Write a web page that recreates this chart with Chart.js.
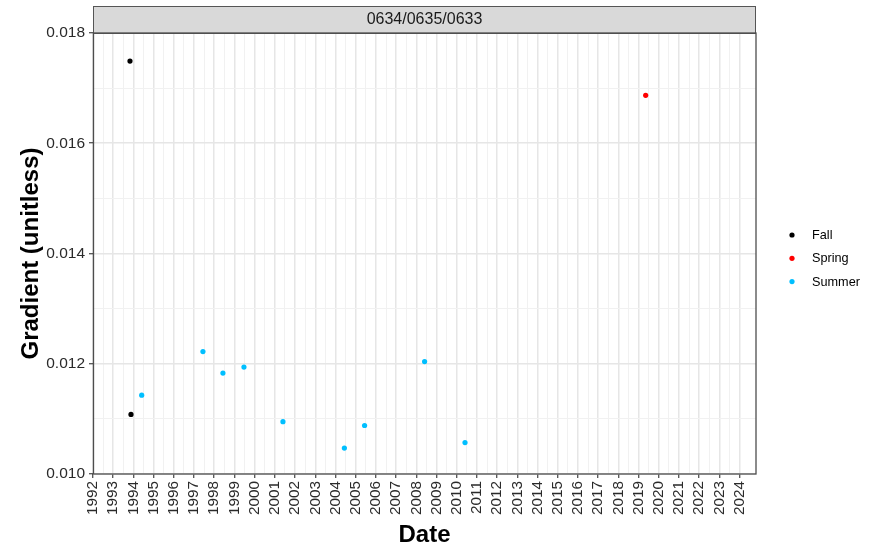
<!DOCTYPE html>
<html>
<head>
<meta charset="utf-8">
<script src="https://cdn.jsdelivr.net/npm/chart.js@4/dist/chart.umd.min.js"></script>
<style>
  html, body { margin: 0; padding: 0; background: #ffffff; }
  #wrap { width: 873px; height: 550px; }
</style>
</head>
<body>
<div id="wrap"><canvas id="chart" width="873" height="550"></canvas></div>
<script>
// Season groups and their colours
const seasons = ['Fall', 'Spring', 'Summer'];
const seasonColors = ['#000000', '#FF0000', '#00BFFF'];

// Observation dates (decimal years) and gradients per season
const fallDates = [1993.83, 1993.88];
const fallValues = [0.01749, 0.01108];

const springDates = [2019.35];
const springValues = [0.01687];

const summerDates = [1994.41, 1997.44, 1998.43, 1999.47, 2001.40, 2004.44, 2005.44, 2008.41, 2010.41];
const summerValues = [0.01143, 0.01222, 0.01183, 0.01194, 0.01095, 0.01047, 0.01088, 0.01204, 0.01057];

// Axis settings
const yearMin = 1992;
const yearMax = 2024.81;
const gradientMin = 0.010;
const gradientMax = 0.018;
const panelTitle = '0634/0635/0633';

const FONT = "'Liberation Sans', Arial, Helvetica, sans-serif";

function toPoints(xs, ys) {
  return xs.map((x, i) => ({ x: x, y: ys[i] }));
}

const seriesDates = [fallDates, springDates, summerDates];
const seriesValues = [fallValues, springValues, summerValues];

const datasets = seasons.map((name, i) => ({
  label: name,
  data: toPoints(seriesDates[i], seriesValues[i]),
  backgroundColor: seasonColors[i],
  borderWidth: 0,
  pointRadius: 2.6,
  pointHoverRadius: 2.6
}));

const isWhole = v => Math.abs(v - Math.round(v)) < 1e-6;
const isHalf = v => !isWhole(v) && Math.abs(v * 2 - Math.round(v * 2)) < 1e-6;
const isMajorY = v => Math.round(v * 1000) % 2 === 0;

const MAJOR_GRID = '#E6E6E6';
const MINOR_GRID = '#F1F1F1';

// Facet strip, panel frame and the season key
const decorations = {
  id: 'decorations',
  afterDraw(chart) {
    const { ctx, chartArea: a } = chart;
    ctx.save();
    // strip
    const stripTop = 6;
    ctx.fillStyle = '#D9D9D9';
    ctx.fillRect(a.left, stripTop, a.right - a.left, a.top - stripTop);
    ctx.strokeStyle = '#555555';
    ctx.lineWidth = 1;
    ctx.strokeRect(a.left + 0.5, stripTop + 0.5, a.right - a.left - 1, a.top - stripTop);
    ctx.fillStyle = '#1A1A1A';
    ctx.font = '16px ' + FONT;
    ctx.textAlign = 'center';
    ctx.textBaseline = 'middle';
    ctx.fillText(panelTitle, (a.left + a.right) / 2, (stripTop + a.top) / 2 + 0.5);
    // panel border
    ctx.strokeStyle = '#4D4D4D';
    ctx.lineWidth = 1.3;
    ctx.strokeRect(a.left + 0.5, a.top, a.right - a.left - 0.5, a.bottom - a.top);
    // key
    ctx.font = '12.7px ' + FONT;
    ctx.textAlign = 'left';
    ctx.textBaseline = 'middle';
    chart.data.datasets.forEach((ds, i) => {
      const y = 235 + i * 23.3;
      ctx.fillStyle = ds.backgroundColor;
      ctx.beginPath();
      ctx.arc(792, y, 2.6, 0, Math.PI * 2);
      ctx.fill();
      ctx.fillStyle = '#000000';
      ctx.fillText(ds.label, 812, y + 0.5);
    });
    ctx.restore();
  }
};

new Chart(document.getElementById('chart'), {
  type: 'scatter',
  data: { datasets },
  plugins: [decorations],
  options: {
    responsive: false,
    animation: false,
    devicePixelRatio: 1,
    layout: { padding: { left: 0, right: 117, top: 33, bottom: 0 } },
    plugins: {
      legend: { display: false },
      tooltip: { enabled: false }
    },
    scales: {
      x: {
        type: 'linear',
        min: yearMin,
        max: yearMax,
        afterFit(scale) { scale.height = 76; },
        border: { display: false },
        grid: {
          drawTicks: true,
          tickLength: 4,
          color: ctx => isWhole(ctx.tick.value) ? MAJOR_GRID : (isHalf(ctx.tick.value) ? MINOR_GRID : 'rgba(0,0,0,0)'),
          lineWidth: ctx => isWhole(ctx.tick.value) ? 1.5 : 1,
          tickColor: ctx => isWhole(ctx.tick.value) ? '#333333' : 'rgba(0,0,0,0)',
          tickWidth: 1.1
        },
        ticks: {
          stepSize: 0.5,
          autoSkip: false,
          minRotation: 90,
          maxRotation: 90,
          padding: 3,
          color: '#2A2A2A',
          font: { family: FONT, size: 15.3 },
          callback: v => isWhole(v) ? String(Math.round(v)) : ''
        },
        title: {
          display: true,
          text: 'Date',
          color: '#000000',
          font: { family: FONT, size: 24, weight: 'bold' },
          padding: { top: 0, bottom: 0 }
        }
      },
      y: {
        type: 'linear',
        min: gradientMin,
        max: gradientMax,
        afterFit(scale) { scale.width = 93; },
        border: { display: false },
        grid: {
          drawTicks: true,
          tickLength: 4,
          color: ctx => isMajorY(ctx.tick.value) ? MAJOR_GRID : MINOR_GRID,
          lineWidth: ctx => isMajorY(ctx.tick.value) ? 1.5 : 1,
          tickColor: ctx => isMajorY(ctx.tick.value) ? '#333333' : 'rgba(0,0,0,0)',
          tickWidth: 1.1
        },
        ticks: {
          stepSize: 0.001,
          autoSkip: false,
          padding: 4,
          color: '#2A2A2A',
          font: { family: FONT, size: 15.5 },
          callback: v => isMajorY(v) ? v.toFixed(3) : ''
        },
        title: {
          display: true,
          text: 'Gradient (unitless)',
          color: '#000000',
          font: { family: FONT, size: 24, weight: 'bold' },
          padding: { top: 17, bottom: 0 }
        }
      }
    }
  }
});
</script>
</body>
</html>
